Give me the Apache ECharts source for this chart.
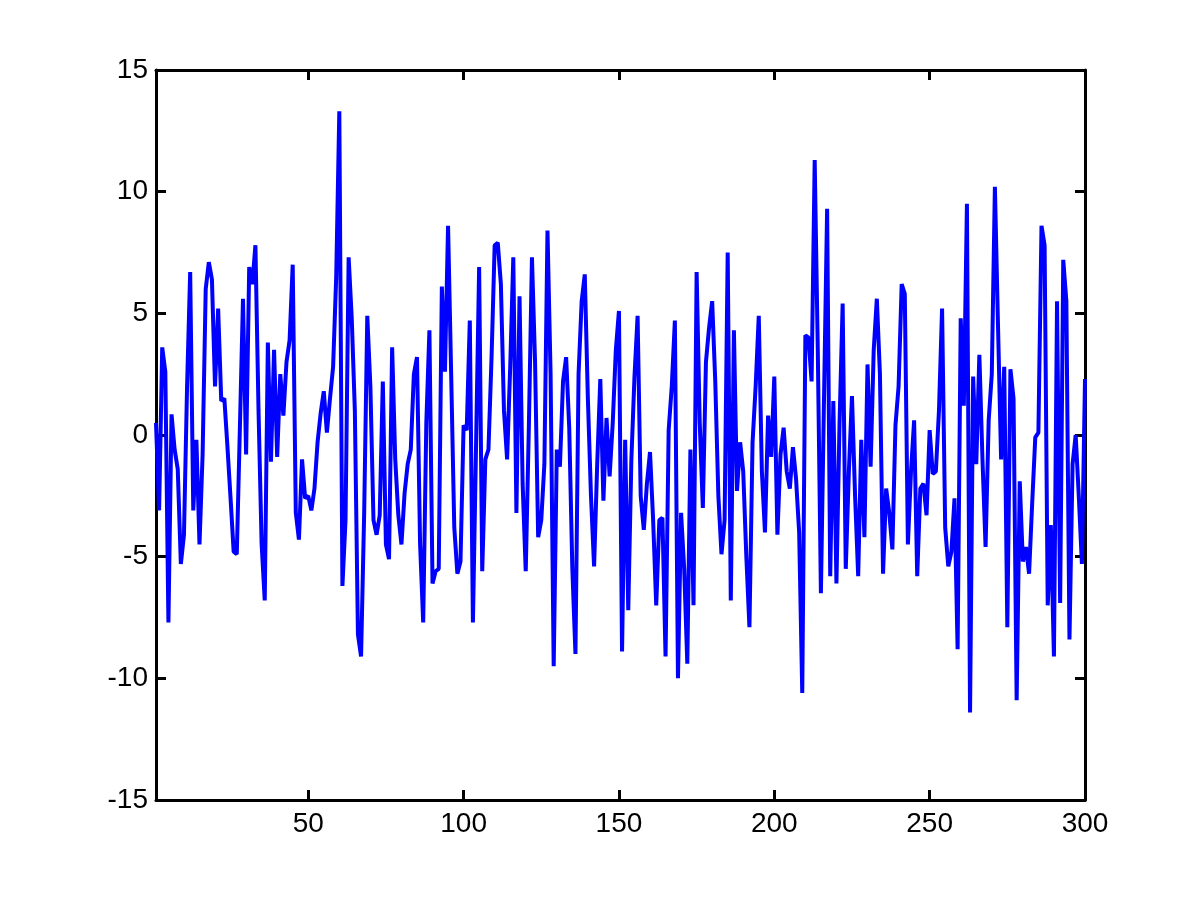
<!DOCTYPE html>
<html>
<head>
<meta charset="utf-8">
<script src="https://cdn.jsdelivr.net/npm/echarts@6/dist/echarts.min.js"></script>
<style>
html,body{margin:0;padding:0;background:#fff;}
#chart{width:1200px;height:900px;}
</style>
</head>
<body>
<div id="chart"></div>
<script>
const xTickValues = [50, 100, 150, 200, 250, 300];
const yTickValues = [-15, -10, -5, 0, 5, 10, 15];
const values = [
 0.5, -3.1, 3.6, 2.6, -7.7, 0.85, -0.6, -1.4, -5.3, -4.1,
 2.0, 6.7, -3.1, -0.2, -4.5, -0.8, 6.0, 7.1, 6.4, 2.0,
 5.2, 1.4, 1.5, -0.5, -2.6, -4.8, -4.9, 0.3, 5.6, -0.8,
 6.9, 6.2, 7.8, 1.0, -4.5, -6.8, 3.8, -1.1, 3.5, -0.9,
 2.5, 0.8, 3.0, 3.9, 7.0, -3.2, -4.3, -1.0, -2.6, -2.5,
 -3.1, -2.2, -0.3, 0.9, 1.8, 0.1, 1.5, 2.8, 6.5, 13.3,
 -6.2, -3.5, 7.3, 4.8, 1.0, -8.2, -9.1, -3.2, 4.9, 2.0,
 -3.5, -4.1, -3.3, 2.2, -4.5, -5.1, 3.6, -1.0, -3.3, -4.5,
 -2.4, -1.2, -0.6, 2.5, 3.2, -4.5, -7.7, 0.5, 4.3, -6.1,
 -5.6, -5.5, 6.1, 2.6, 8.6, 2.5, -3.8, -5.7, -5.2, 0.4,
 0.2, 4.7, -7.7, -0.5, 6.9, -5.6, -1.0, -0.6, 3.2, 7.8,
 7.9, 6.2, 1.0, -1.0, 2.8, 7.3, -3.2, 5.7, -2.0, -5.6,
 0.3, 7.3, 3.0, -4.2, -3.5, -1.2, 8.4, 2.5, -9.5, -0.6,
 -1.3, 2.2, 3.2, 0.3, -5.5, -9.0, 2.5, 5.5, 6.6, 1.5,
 -2.5, -5.4, -1.2, 2.3, -2.7, 0.7, -1.7, 0.5, 3.5, 5.1,
 -8.9, -0.2, -7.2, -1.0, 2.4, 4.9, -2.5, -3.9, -2.0, -0.7,
 -3.5, -7.0, -3.5, -3.4, -9.1, 0.2, 2.0, 4.7, -10.0, -3.2,
 -5.5, -9.4, -0.6, -7.0, 6.7, 0.5, -3.0, 3.0, 4.4, 5.5,
 2.2, -2.5, -4.9, -3.5, 7.5, -6.8, 4.3, -2.3, -0.3, -1.5,
 -5.0, -7.9, -0.3, 2.0, 4.9, -1.5, -4.0, 0.8, -0.9, 2.4,
 -4.1, -0.8, 0.3, -1.5, -2.2, -0.5, -1.8, -4.0, -10.6, 4.1,
 4.0, 2.2, 11.3, 3.5, -6.5, 1.5, 9.3, -5.8, 1.4, -6.1,
 0.5, 5.4, -5.5, -1.5, 1.6, -2.5, -5.8, -0.2, -4.2, 2.9,
 -1.3, 3.5, 5.6, 2.5, -5.7, -2.2, -3.2, -4.7, 0.4, 2.0,
 6.2, 5.8, -4.5, -1.5, 0.6, -5.8, -2.2, -2.0, -3.3, 0.2,
 -1.6, -1.5, 1.0, 5.2, -3.8, -5.4, -4.8, -2.6, -8.8, 4.8,
 1.2, 9.5, -11.4, 2.4, -1.2, 3.3, -1.0, -4.6, 0.6, 2.5,
 10.2, 4.5, -1.0, 2.8, -7.9, 2.7, 1.5, -10.9, -1.9, -5.2,
 -4.6, -5.7, -2.8, -0.1, 0.1, 8.6, 7.8, -7.0, -3.7, -9.1,
 5.5, -6.9, 7.2, 5.5, -8.4, -1.2, 0.0, -2.5, -5.3, 2.3
];

const FONT = 'Liberation Sans';
const chart = echarts.init(document.getElementById('chart'), null, {renderer: 'canvas'});
const axisLineStyle = {color: '#000', width: 3};
const labelStyle = {color: '#000', fontSize: 28, fontFamily: FONT};

chart.setOption({
  animation: false,
  backgroundColor: '#fff',
  grid: {left: 156, right: 115, top: 70, bottom: 100, show: false},
  xAxis: [
    {
      type: 'value', min: 1, max: 300, position: 'bottom',
      axisLine: {show: true, onZero: false, lineStyle: axisLineStyle},
      axisTick: {show: true, inside: true, length: 10, lineStyle: axisLineStyle, customValues: xTickValues},
      axisLabel: Object.assign({margin: 10, customValues: xTickValues}, labelStyle),
      splitLine: {show: false}
    },
    {
      type: 'value', min: 1, max: 300, position: 'top',
      axisLine: {show: true, onZero: false, lineStyle: axisLineStyle},
      axisTick: {show: true, inside: true, length: 10, lineStyle: axisLineStyle, customValues: xTickValues},
      axisLabel: {show: false},
      splitLine: {show: false}
    }
  ],
  yAxis: [
    {
      type: 'value', min: -15, max: 15, interval: 5, position: 'left',
      axisLine: {show: true, onZero: false, lineStyle: axisLineStyle},
      axisTick: {show: true, inside: true, length: 10, lineStyle: axisLineStyle},
      axisLabel: Object.assign({margin: 8}, labelStyle),
      splitLine: {show: false}
    },
    {
      type: 'value', min: -15, max: 15, interval: 5, position: 'right',
      axisLine: {show: true, onZero: false, lineStyle: axisLineStyle},
      axisTick: {show: true, inside: true, length: 10, lineStyle: axisLineStyle},
      axisLabel: {show: false},
      splitLine: {show: false}
    }
  ],
  series: [{
    type: 'line',
    xAxisIndex: 0, yAxisIndex: 0,
    data: values.map((v, i) => [i + 1, v]),
    showSymbol: false,
    symbol: 'none',
    lineStyle: {color: '#0000ff', width: 4},
    itemStyle: {color: '#0000ff'}
  }]
});
</script>
</body>
</html>
